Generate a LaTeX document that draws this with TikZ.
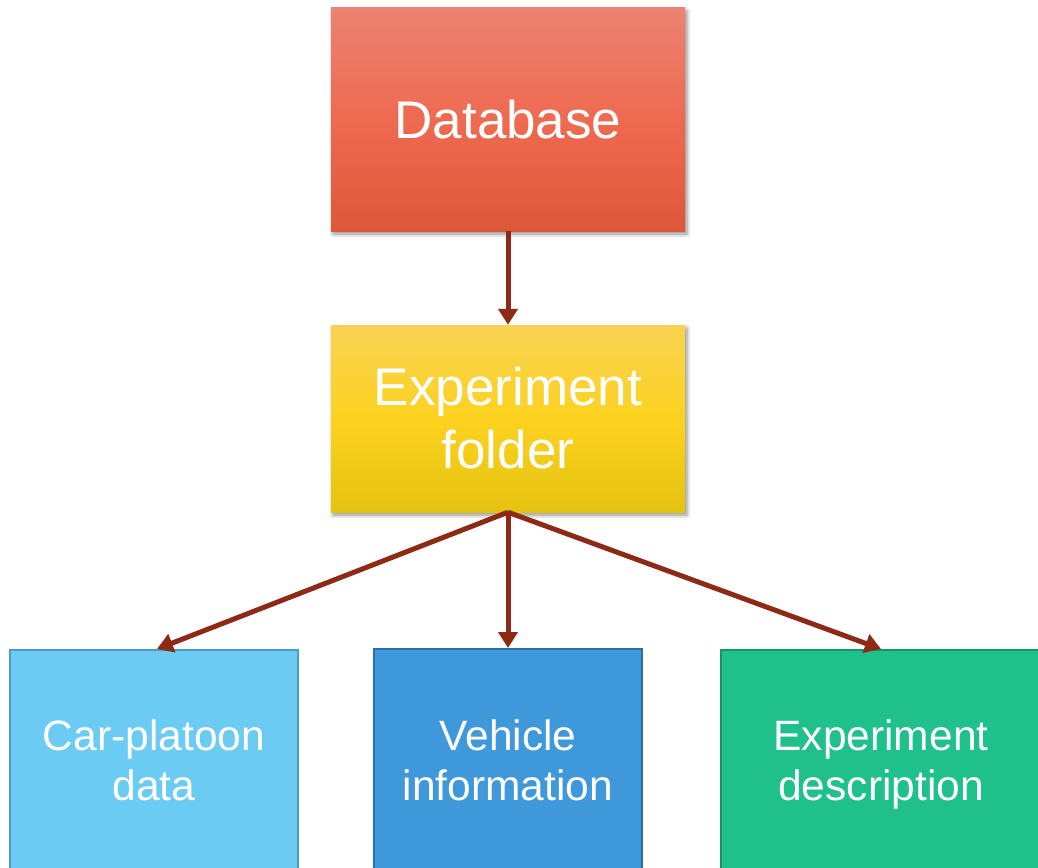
\documentclass[tikz,border=0pt]{standalone}
\usepackage{fontspec}
\setmainfont{Liberation Sans}
\usetikzlibrary{arrows.meta,shadows.blur}
\definecolor{arrowred}{HTML}{8C2A16}
\definecolor{dbtop}{HTML}{EC8272}
\definecolor{dbmid}{HTML}{EE6A50}
\definecolor{dbbot}{HTML}{DF573A}
\definecolor{eftop}{HTML}{F9D253}
\definecolor{efmid}{HTML}{FCD21F}
\definecolor{efbot}{HTML}{E6C211}
\definecolor{carfill}{HTML}{6CCBF2}
\definecolor{carline}{HTML}{4A9BC6}
\definecolor{vehfill}{HTML}{3E98D9}
\definecolor{vehline}{HTML}{2D6EA6}
\definecolor{descfill}{HTML}{20C08A}
\definecolor{descline}{HTML}{16946A}
\tikzset{
  topbox/.style={rectangle, inner sep=0pt, text=white, align=center,
    blur shadow={shadow xshift=2pt, shadow yshift=-3pt, shadow blur radius=4pt, shadow opacity=45}},
  leafbox/.style={rectangle, inner sep=0pt, text=white, align=center, line width=2pt,
    text depth=0pt, font=\fontsize{42.5}{50}\selectfont},
  link/.style={draw=arrowred, line width=5pt, -{Triangle[width=19pt,length=16pt]}}
}
\begin{document}
\begin{tikzpicture}[x=1pt,y=-1pt]
\useasboundingbox (0,0) rectangle (1038,867);
\clip (0,0) rectangle (1038,867);
% upper levels
\node[topbox, minimum width=354pt, minimum height=223pt,
  top color=dbtop, bottom color=dbbot, middle color=dbmid,
  font=\fontsize{53}{63}\selectfont] (db) at (508,119.5) {Database};
\node[topbox, minimum width=354pt, minimum height=187pt,
  top color=eftop, bottom color=efbot, middle color=efmid,
  font=\fontsize{53}{63}\selectfont] (ef) at (508,418.5) {Experiment\\folder};
% leaf folders
\node[leafbox, fill=carfill, draw=carline, minimum width=288pt, minimum height=220pt]
  (car) at (154,760) {Car-platoon\\data};
\node[leafbox, fill=vehfill, draw=vehline, minimum width=268pt, minimum height=222pt]
  (veh) at (508,760) {Vehicle\\information};
\node[leafbox, fill=descfill, draw=descline, minimum width=320pt, minimum height=220pt]
  (desc) at (881,760) {Experiment\\description};
% connectors
\draw[link] (db.south) -- (ef.north);
\draw[link] (ef.south) -- ([xshift=3pt]car.north);
\draw[link] (ef.south) -- (veh.north);
\draw[link] (ef.south) -- (desc.north);
\end{tikzpicture}
\end{document}
